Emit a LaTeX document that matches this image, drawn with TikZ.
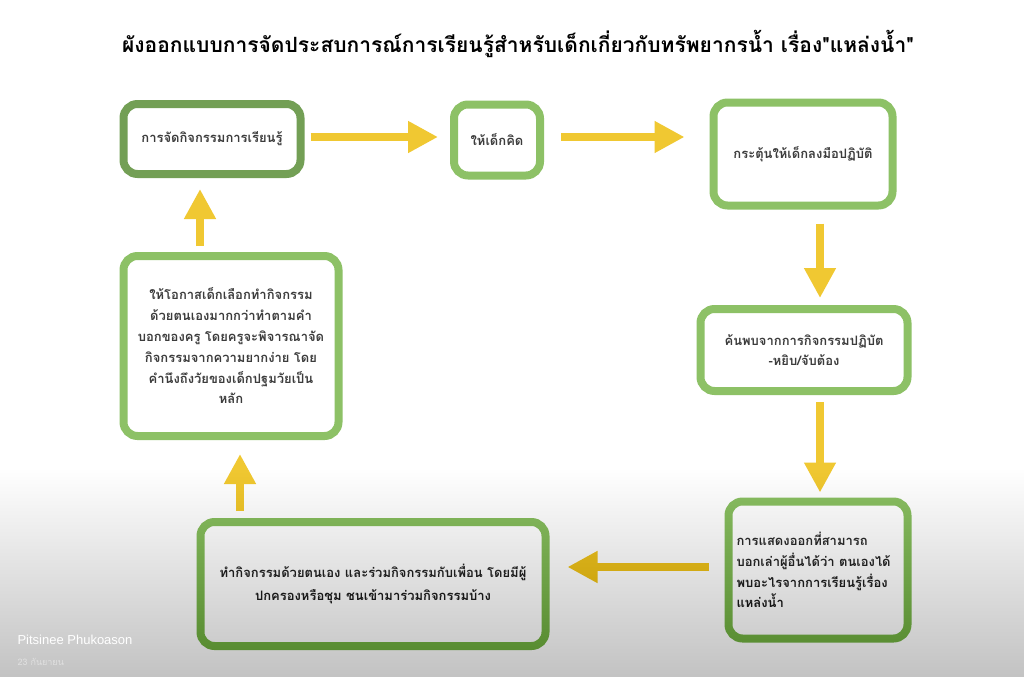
\documentclass[tikz,border=0pt]{standalone}
\usepackage{fontspec}
\newfontfamily\thai[Script=Thai]{Loma}
\setmainfont{Liberation Sans}
\usetikzlibrary{arrows.meta}
\definecolor{gdark}{HTML}{739F55}
\definecolor{glight}{HTML}{8DC166}
\definecolor{arrowy}{HTML}{F0C832}
\definecolor{txt}{HTML}{3C3C3C}
\tikzset{
  box/.style={draw=glight, line width=8pt, rounded corners=14pt, fill=white, align=center, text=txt, font=\thai\bfseries\fontsize{13}{20.8}\selectfont, inner sep=0pt},
  flow/.style={draw=arrowy, line width=8pt, -{Triangle[length=30pt,width=30pt]}},
}
\begin{document}
\begin{tikzpicture}[x=1pt,y=-1pt]
\useasboundingbox (0,0) rectangle (1024,677);
\fill[white] (0,0) rectangle (1024,677);
\node[font=\thai\bfseries\fontsize{21}{24}\selectfont, text=black] (title) at (518,44) {ผังออกแบบการจัดประสบการณ์การเรียนรู้สำหรับเด็กเกี่ยวกับทรัพยากรน้ำ เรื่อง"แหล่งน้ำ"};
\node[box, draw=gdark, minimum width=177pt, minimum height=70pt] (b1) at (212,139) {การจัดกิจกรรมการเรียนรู้};
\node[box, minimum width=86pt, minimum height=71pt] (b2) at (497,140) {ให้เด็กคิด};
\node[box, minimum width=179pt, minimum height=103pt] (b3) at (803,154) {กระตุ้นให้เด็กลงมือปฏิบัติ};
\node[box, minimum width=207pt, minimum height=82pt] (b4) at (804,350) {ค้นพบจากการกิจกรรมปฏิบัต\\-หยิบ/จับต้อง};
\node[box, minimum width=179pt, minimum height=137pt, align=left, text width=163pt] (b5) at (818,570) {การแสดงออกที่สามารถ\\บอกเล่าผู้อื่นได้ว่า ตนเองได้\\พบอะไรจากการเรียนรู้เรื่อง\\แหล่งน้ำ};
\node[box, minimum width=345pt, minimum height=124pt, font=\thai\bfseries\fontsize{13}{23}\selectfont] (b6) at (373,584) {ทำกิจกรรมด้วยตนเอง และร่วมกิจกรรมกับเพื่อน โดยมีผู้\\ปกครองหรือชุม ชนเข้ามาร่วมกิจกรรมบ้าง};
\node[box, minimum width=215pt, minimum height=180pt] (b7) at (231,346) {ให้โอกาสเด็กเลือกทำกิจกรรม\\ด้วยตนเองมากกว่าทำตามคำ\\บอกของครู โดยครูจะพิจารณาจัด\\กิจกรรมจากความยากง่าย โดย\\คำนึงถึงวัยของเด็กปฐมวัยเป็น\\หลัก};
% arrows
\draw[flow] ([shift={(6,-2)}]b1.east) -- ([shift={(-12,-3)}]b2.west);
\draw[flow] ([shift={(17,-3)}]b2.east) -- ([shift={(-25,-17)}]b3.west);
\draw[flow] ([shift={(17,14)}]b3.south) -- ([shift={(16,-7)}]b4.north);
\draw[flow] ([shift={(16,7)}]b4.south) -- ([shift={(2,-5)}]b5.north);
\draw[flow] ([shift={(-16,-3)}]b5.west) -- ([shift={(18,-17)}]b6.east);
\draw[flow] ([shift={(-133,-7)}]b6.north) -- ([shift={(9,14)}]b7.south);
\draw[flow] ([shift={(-31,-6)}]b7.north) -- ([shift={(-12,11)}]b1.south);
% bottom grey overlay (nested bands)
\foreach \i in {0,...,59} {
  \fill[black, opacity=0.0038] (0,{470+\i*3.45}) rectangle (1024,677);
}
\node[anchor=west, text=white, font=\fontsize{13}{15}\selectfont] (author) at (14,640) {Pitsinee Phukoason};
\node[anchor=west, text=white, opacity=0.45, font=\thai\fontsize{9}{11}\selectfont] (date) at (14,662) {23 กันยายน};
\end{tikzpicture}
\end{document}
